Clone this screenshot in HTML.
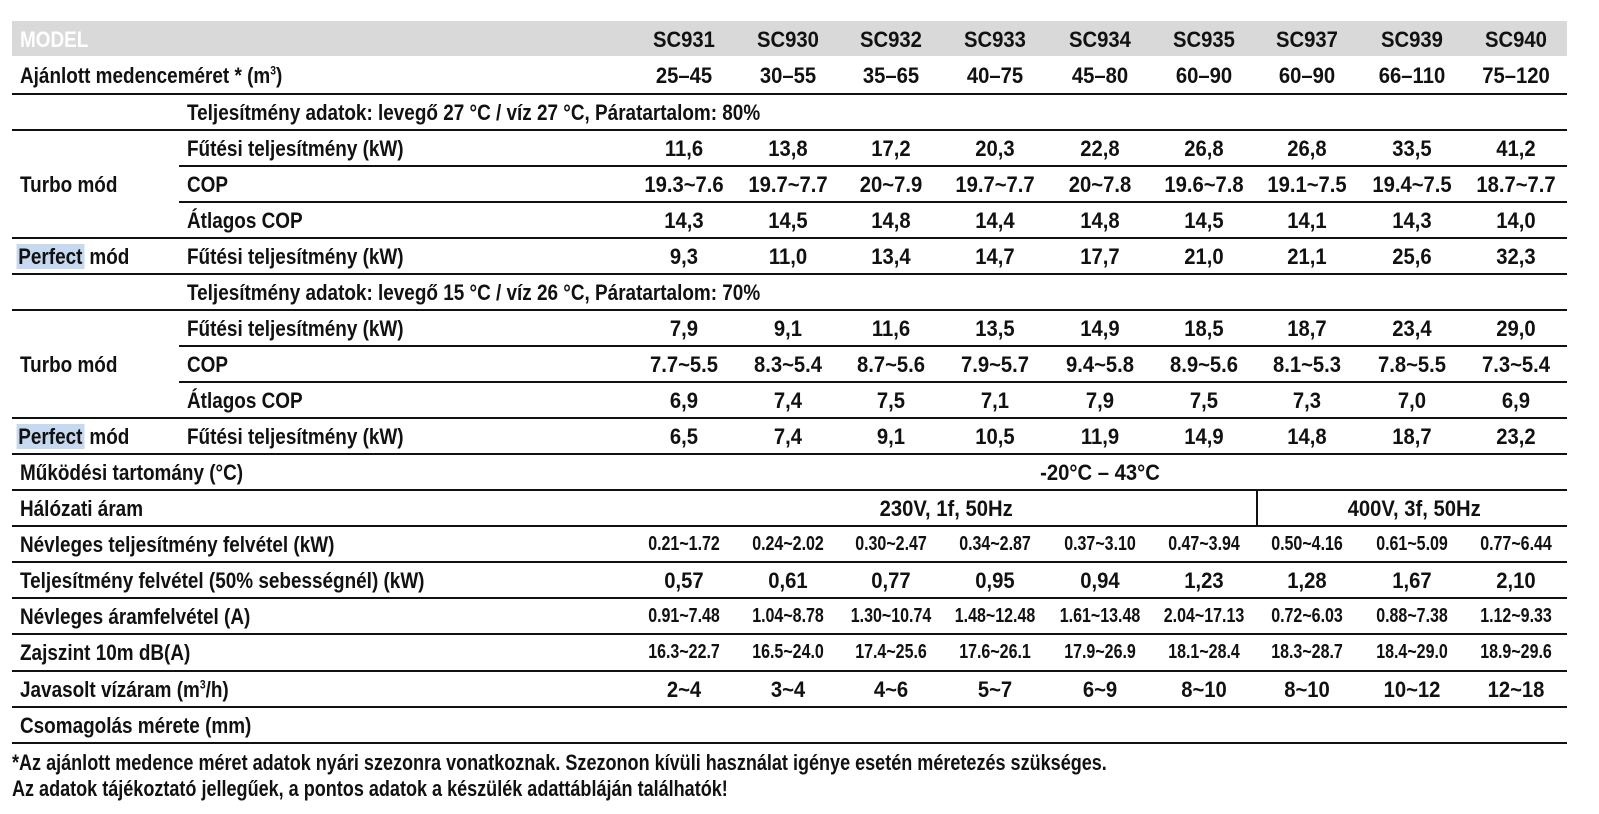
<!DOCTYPE html>
<html><head><meta charset="utf-8">
<style>
body{margin:0;width:1599px;height:814px;background:#fff;position:relative;overflow:hidden;
font-family:"Liberation Sans",sans-serif;font-weight:bold;color:#111;font-size:22px}
.r{position:absolute;left:0;width:1599px;height:36px;line-height:37px}
.r>span{position:absolute;white-space:nowrap}
.a,.b{transform:scaleX(0.86);transform-origin:0 50%}
.a{left:20px}.b{left:187px}
.c{width:104px;text-align:center;transform:scaleX(0.92)}
.s .c{font-size:20px;transform:scaleX(0.8)}
.c1{left:632px}.c2{left:736px}.c3{left:839px}.c4{left:943px}.c5{left:1048px}.c6{left:1152px}.c7{left:1255px}.c8{left:1360px}.c9{left:1464px}
.l{position:absolute;height:2px;background:#111;right:32px}
.f{left:12px}.p{left:179px}
.hl{background:#c6d9f0;padding:0 2px;margin-left:-4px}
sup{font-size:12px;line-height:0}
</style></head><body>
<div style="position:absolute;left:12px;top:21px;width:1555px;height:35px;background:#d9d9d9"></div>
<div class="r" style="top:21px;line-height:37px"><span class="a" style="color:#fff">MODEL</span>
<span class="c c1">SC931</span><span class="c c2">SC930</span><span class="c c3">SC932</span><span class="c c4">SC933</span><span class="c c5">SC934</span><span class="c c6">SC935</span><span class="c c7">SC937</span><span class="c c8">SC939</span><span class="c c9">SC940</span></div>
<div class="r" style="top:57px"><span class="a">Ajánlott medenceméret * (m<sup>3</sup>)</span>
<span class="c c1">25–45</span><span class="c c2">30–55</span><span class="c c3">35–65</span><span class="c c4">40–75</span><span class="c c5">45–80</span><span class="c c6">60–90</span><span class="c c7">60–90</span><span class="c c8">66–110</span><span class="c c9">75–120</span></div>
<div class="r" style="top:94px"><span class="b">Teljesítmény adatok: levegő 27 °C / víz 27 °C, Páratartalom: 80%</span></div>
<div class="r" style="top:130px"><span class="b">Fűtési teljesítmény (kW)</span>
<span class="c c1">11,6</span><span class="c c2">13,8</span><span class="c c3">17,2</span><span class="c c4">20,3</span><span class="c c5">22,8</span><span class="c c6">26,8</span><span class="c c7">26,8</span><span class="c c8">33,5</span><span class="c c9">41,2</span></div>
<div class="r" style="top:166px"><span class="a">Turbo mód</span><span class="b">COP</span>
<span class="c c1">19.3~7.6</span><span class="c c2">19.7~7.7</span><span class="c c3">20~7.9</span><span class="c c4">19.7~7.7</span><span class="c c5">20~7.8</span><span class="c c6">19.6~7.8</span><span class="c c7">19.1~7.5</span><span class="c c8">19.4~7.5</span><span class="c c9">18.7~7.7</span></div>
<div class="r" style="top:202px"><span class="b">Átlagos COP</span>
<span class="c c1">14,3</span><span class="c c2">14,5</span><span class="c c3">14,8</span><span class="c c4">14,4</span><span class="c c5">14,8</span><span class="c c6">14,5</span><span class="c c7">14,1</span><span class="c c8">14,3</span><span class="c c9">14,0</span></div>
<div class="r" style="top:238px"><span class="a"><span class="hl">Perfect</span> mód</span><span class="b">Fűtési teljesítmény (kW)</span>
<span class="c c1">9,3</span><span class="c c2">11,0</span><span class="c c3">13,4</span><span class="c c4">14,7</span><span class="c c5">17,7</span><span class="c c6">21,0</span><span class="c c7">21,1</span><span class="c c8">25,6</span><span class="c c9">32,3</span></div>
<div class="r" style="top:274px"><span class="b">Teljesítmény adatok: levegő 15 °C / víz 26 °C, Páratartalom: 70%</span></div>
<div class="r" style="top:310px"><span class="b">Fűtési teljesítmény (kW)</span>
<span class="c c1">7,9</span><span class="c c2">9,1</span><span class="c c3">11,6</span><span class="c c4">13,5</span><span class="c c5">14,9</span><span class="c c6">18,5</span><span class="c c7">18,7</span><span class="c c8">23,4</span><span class="c c9">29,0</span></div>
<div class="r" style="top:346px"><span class="a">Turbo mód</span><span class="b">COP</span>
<span class="c c1">7.7~5.5</span><span class="c c2">8.3~5.4</span><span class="c c3">8.7~5.6</span><span class="c c4">7.9~5.7</span><span class="c c5">9.4~5.8</span><span class="c c6">8.9~5.6</span><span class="c c7">8.1~5.3</span><span class="c c8">7.8~5.5</span><span class="c c9">7.3~5.4</span></div>
<div class="r" style="top:382px"><span class="b">Átlagos COP</span>
<span class="c c1">6,9</span><span class="c c2">7,4</span><span class="c c3">7,5</span><span class="c c4">7,1</span><span class="c c5">7,9</span><span class="c c6">7,5</span><span class="c c7">7,3</span><span class="c c8">7,0</span><span class="c c9">6,9</span></div>
<div class="r" style="top:418px"><span class="a"><span class="hl">Perfect</span> mód</span><span class="b">Fűtési teljesítmény (kW)</span>
<span class="c c1">6,5</span><span class="c c2">7,4</span><span class="c c3">9,1</span><span class="c c4">10,5</span><span class="c c5">11,9</span><span class="c c6">14,9</span><span class="c c7">14,8</span><span class="c c8">18,7</span><span class="c c9">23,2</span></div>
<div class="r" style="top:454px"><span class="a">Működési tartomány (°C)</span><span class="c c5" style="width:140px;left:1030px">-20°C – 43°C</span></div>
<div class="r" style="top:490px"><span class="a">Hálózati áram</span><span class="c" style="left:874px;width:140px">230V, 1f, 50Hz</span><span class="c" style="left:1342px;width:140px">400V, 3f, 50Hz</span></div>
<div style="position:absolute;left:1256px;top:491px;width:2px;height:35px;background:#111"></div>
<div class="r s" style="top:526px"><span class="a">Névleges teljesítmény felvétel (kW)</span>
<span class="c c1">0.21~1.72</span><span class="c c2">0.24~2.02</span><span class="c c3">0.30~2.47</span><span class="c c4">0.34~2.87</span><span class="c c5">0.37~3.10</span><span class="c c6">0.47~3.94</span><span class="c c7">0.50~4.16</span><span class="c c8">0.61~5.09</span><span class="c c9">0.77~6.44</span></div>
<div class="r" style="top:562px"><span class="a">Teljesítmény felvétel (50% sebességnél) (kW)</span>
<span class="c c1">0,57</span><span class="c c2">0,61</span><span class="c c3">0,77</span><span class="c c4">0,95</span><span class="c c5">0,94</span><span class="c c6">1,23</span><span class="c c7">1,28</span><span class="c c8">1,67</span><span class="c c9">2,10</span></div>
<div class="r s" style="top:598px"><span class="a">Névleges áramfelvétel (A)</span>
<span class="c c1">0.91~7.48</span><span class="c c2">1.04~8.78</span><span class="c c3">1.30~10.74</span><span class="c c4">1.48~12.48</span><span class="c c5">1.61~13.48</span><span class="c c6">2.04~17.13</span><span class="c c7">0.72~6.03</span><span class="c c8">0.88~7.38</span><span class="c c9">1.12~9.33</span></div>
<div class="r s" style="top:634px"><span class="a">Zajszint 10m dB(A)</span>
<span class="c c1">16.3~22.7</span><span class="c c2">16.5~24.0</span><span class="c c3">17.4~25.6</span><span class="c c4">17.6~26.1</span><span class="c c5">17.9~26.9</span><span class="c c6">18.1~28.4</span><span class="c c7">18.3~28.7</span><span class="c c8">18.4~29.0</span><span class="c c9">18.9~29.6</span></div>
<div class="r" style="top:671px"><span class="a">Javasolt vízáram (m<sup>3</sup>/h)</span>
<span class="c c1">2~4</span><span class="c c2">3~4</span><span class="c c3">4~6</span><span class="c c4">5~7</span><span class="c c5">6~9</span><span class="c c6">8~10</span><span class="c c7">8~10</span><span class="c c8">10~12</span><span class="c c9">12~18</span></div>
<div class="r" style="top:707px"><span class="a">Csomagolás mérete (mm)</span></div>

<div class="l f" style="top:93px"></div>
<div class="l f" style="top:129px"></div>
<div class="l p" style="top:165px"></div>
<div class="l p" style="top:201px"></div>
<div class="l f" style="top:237px"></div>
<div class="l f" style="top:273px"></div>
<div class="l f" style="top:309px"></div>
<div class="l p" style="top:345px"></div>
<div class="l p" style="top:381px"></div>
<div class="l f" style="top:417px"></div>
<div class="l f" style="top:453px"></div>
<div class="l f" style="top:489px"></div>
<div class="l f" style="top:525px"></div>
<div class="l f" style="top:561px"></div>
<div class="l f" style="top:597px"></div>
<div class="l f" style="top:633px"></div>
<div class="l f" style="top:670px"></div>
<div class="l f" style="top:706px"></div>
<div class="l f" style="top:742px"></div>

<div style="position:absolute;left:12px;top:750px;line-height:26px;font-size:22px;white-space:nowrap;transform:scaleX(0.82);transform-origin:0 0">*Az ajánlott medence méret adatok nyári szezonra vonatkoznak. Szezonon kívüli használat igénye esetén méretezés szükséges.<br>Az adatok tájékoztató jellegűek, a pontos adatok a készülék adattábláján találhatók!</div>
</body></html>
